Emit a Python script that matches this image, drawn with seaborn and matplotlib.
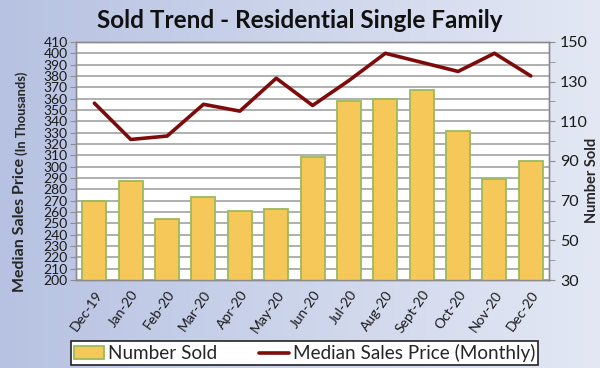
import numpy as np
import matplotlib
matplotlib.use("Agg")
import matplotlib.pyplot as plt
import seaborn as sns
from matplotlib.patches import Patch
from matplotlib.lines import Line2D
from matplotlib.ticker import MultipleLocator

months = ["Dec-19", "Jan-20", "Feb-20", "Mar-20", "Apr-20", "May-20", "Jun-20",
          "Jul-20", "Aug-20", "Sept-20", "Oct-20", "Nov-20", "Dec-20"]
number_sold = [70, 80, 61, 72, 65, 66, 92, 120, 121, 126, 105, 81, 90]
median_price = [356, 324, 327, 355, 349, 378, 354, 376, 400, 392, 384, 400, 380]

sns.set_style("white")
plt.rcParams['font.family'] = ['Lato', 'DejaVu Sans']

fig = plt.figure(figsize=(6, 3.68), dpi=100)

# bluish gradient background
bg = fig.add_axes([0, 0, 1, 1], zorder=-10)
grad = np.linspace(0, 1, 256).reshape(1, -1)
bg.imshow(grad, aspect='auto', extent=[0, 1, 0, 1],
          cmap=matplotlib.colors.LinearSegmentedColormap.from_list('bg', ['#b7c2e2', '#e3e8f4']))
bg.axis('off')

ax = fig.add_axes([0.127, 0.239, 0.788, 0.647])
ax.set_facecolor('white')
ax2 = ax.twinx()

# price line on the left axis
sns.lineplot(x=months, y=median_price, ax=ax, color='#7f0a0a', linewidth=2.6, sort=False)
ax.set_ylim(200, 410)
ax.yaxis.set_major_locator(MultipleLocator(10))
ax.grid(axis='y', color='#9a9a9a', linewidth=1.1)
ax.set_axisbelow(True)

# number sold bars on the right axis
sns.barplot(x=months, y=number_sold, ax=ax2, color='#f6c85a', width=0.66,
            edgecolor='#9bbb59', linewidth=1.3, saturation=1)
ax2.set_ylim(30, 150)
ax2.set_yticks([30, 50, 70, 90, 110, 130, 150])
ax2.yaxis.set_minor_locator(MultipleLocator(10))

for a in (ax, ax2):
    a.set_xlim(-0.5, 12.5)
    for s in a.spines.values():
        s.set_color('#8c8c8c')
        s.set_linewidth(1)

ax.tick_params(axis='y', length=4, color='#8c8c8c', labelsize=10, pad=2)
ax2.tick_params(axis='y', which='both', length=4, color='#8c8c8c', labelsize=11.5, pad=4)
ax.set_xticks(range(len(months)))
ax.set_xticklabels(months, rotation=55, ha='right', rotation_mode='anchor', fontsize=10)
ax.set_xticks(np.arange(-0.5, 13, 1), minor=True)
ax.tick_params(axis='x', which='major', length=0, pad=6)
ax.tick_params(axis='x', which='minor', length=4, color='#8c8c8c')
for lab in ax.get_yticklabels() + ax2.get_yticklabels() + ax.get_xticklabels():
    lab.set_color('#1a1a1a')

ax.set_ylabel('')
ax2.set_ylabel('')
ax.set_xlabel('')
ax2.set_xlabel('')

fig.text(0.5, 0.945, 'Sold Trend - Residential Single Family', ha='center', va='center',
         fontsize=17.5, fontweight='bold', color='#111111')
fig.text(0.033, 0.207, 'Median Sales Price', rotation=90, ha='center', va='bottom',
         fontsize=11.5, fontweight='bold')
fig.text(0.036, 0.58, '(In Thousands)', rotation=90, ha='center', va='bottom',
         fontsize=9.3, fontweight='bold')
fig.text(0.986, 0.51, 'Number Sold', rotation=90, ha='center', va='center',
         fontsize=10.5, fontweight='bold')

handles = [Patch(facecolor='#f6c85a', edgecolor='#9bbb59', linewidth=1.3),
           Line2D([0], [0], color='#7f0a0a', linewidth=2.6)]
leg = fig.legend(handles, ['Number Sold', 'Median Sales Price (Monthly)'],
                 loc='center', bbox_to_anchor=(0.508, 0.04), ncol=2, fontsize=13.6,
                 frameon=True, fancybox=False, edgecolor='#222222', framealpha=1,
                 handlelength=1.6, handletextpad=0.2, columnspacing=2.2,
                 borderpad=0.15, borderaxespad=0)
leg.get_frame().set_linewidth(1.2)

fig.savefig('out.png', dpi=100)
